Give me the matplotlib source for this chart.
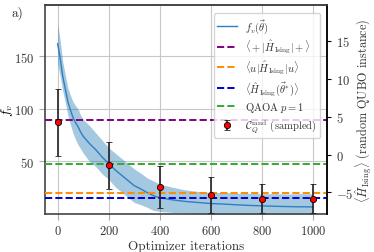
import numpy as np
import matplotlib
matplotlib.use("Agg")
import matplotlib.pyplot as plt

plt.rcParams['font.family'] = 'serif'
plt.rcParams['font.serif'] = ['cmr10', 'DejaVu Serif']
plt.rcParams['mathtext.fontset'] = 'cm'
plt.rcParams['axes.formatter.use_mathtext'] = True

# optimizer trace (left axis, f_v)
iters = [0, 10, 20, 30, 40, 50, 60, 70, 80, 90, 100, 125, 150, 175, 200, 225, 250,
         275, 300, 325, 350, 375, 400, 450, 500, 550, 600, 650, 700, 750, 800, 850,
         900, 950, 1000]
fv_mean = [162, 148, 131, 119, 107, 99, 92, 87, 83, 78, 74, 67, 61, 54, 48, 42, 37,
           32, 27, 24, 20.5, 17.5, 15.5, 13.5, 12, 11, 10, 9.5, 8.8, 8.2, 7.8, 7.4,
           7.1, 6.9, 6.8]
fv_std = [19, 17, 14, 13, 13, 14, 15, 16, 17, 16, 16, 17, 16, 16, 15, 16, 16,
          16, 16, 15, 14, 14, 13, 12, 11, 10.5, 10.5, 11, 11, 11.5, 11.5, 12,
          12, 12.5, 12.5]

# reference energies (right axis)
e_plus = 4.5
e_u = -5.1
e_opt = -5.78
e_qaoa = -1.25

# sampled cost with error bars (right axis)
samp_x = [0, 200, 400, 600, 800, 1000]
samp_y = [4.25, -1.4, -4.3, -5.3, -5.8, -5.8]
samp_err = [4.4, 3.1, 2.8, 2.35, 1.85, 1.85]

fig = plt.figure(figsize=(3.74, 2.53), dpi=100)
ax = fig.add_axes([0.120, 0.150, 0.7535, 0.827])
ax2 = ax.twinx()

x = np.array(iters)
m = np.array(fv_mean)
s = np.array(fv_std)
ax.fill_between(x, m - s, m + s, color='#1f77b4', alpha=0.4, lw=0)
l0, = ax.plot(x, m, color='#2f7fbf', lw=1.0, label=r'$f_v(\vec{\theta})$')

ax.set_xlim(-50, 1054)
ax.set_ylim(0, 199)
ax.set_yticks([50, 100, 150])
ax.set_xticks([0, 200, 400, 600, 800, 1000])
ax.grid(True, color='#c8c8c8', lw=0.8)
ax.set_axisbelow(True)
ax.tick_params(axis='both', labelsize=9, color='#aaaaaa', length=4, labelcolor='#333333')
for sp in ax.spines.values():
    sp.set_color('#444444')
    sp.set_linewidth(1.2)
ax.set_xlabel('Optimizer iterations', fontsize=9.5, color='#333333', labelpad=2)
ax.set_ylabel(r'$f_v$', fontsize=10)
ax.yaxis.set_label_coords(-0.105, 0.5)

ax2.set_ylim(-7.85, 19.75)
ax2.set_yticks([-5, 0, 5, 10, 15])
h1 = ax2.axhline(e_plus, color='purple', ls='--', lw=1.4,
                 label=r'$\langle + | \hat{H}_{\rm Ising} | + \rangle$')
h2 = ax2.axhline(e_u, color='darkorange', ls='--', lw=1.4,
                 label=r'$\langle u | \hat{H}_{\rm Ising} | u \rangle$')
h3 = ax2.axhline(e_opt, color='#0000cc', ls='--', lw=1.4,
                 label=r'$\langle \hat{H}_{\rm Ising}(\vec{\theta}^{*}) \rangle$')
h4 = ax2.axhline(e_qaoa, color='#33aa33', ls='--', lw=1.4, label=r'QAOA $p=1$')
h5 = ax2.errorbar(samp_x, samp_y, yerr=samp_err, fmt='o', color='red', mec='black',
                  mew=0.6, ms=4.5, ecolor='#222222', elinewidth=1.2, capsize=2,
                  capthick=1.0, label=r'$\mathcal{C}_Q^{\rm rand}$ (sampled)')
ax2.tick_params(axis='y', labelsize=9, length=3, labelcolor='#333333')
ax2.spines['right'].set_linewidth(1.2)
ax2.spines['top'].set_linewidth(1.2)
ax2.spines['top'].set_color('#444444')
ax2.spines['left'].set_visible(False)
ax2.spines['bottom'].set_visible(False)
ax2.set_ylabel(r'$\langle \hat{H}_{\rm Ising}\rangle$ (random QUBO instance)',
               fontsize=8.8, color='#333333')
ax2.yaxis.set_label_coords(1.095, 0.5)

leg = ax2.legend(handles=[l0, h1, h2, h3, h4, h5], loc='upper right', fontsize=7.6,
                 frameon=True, framealpha=0.8, edgecolor='#cccccc',
                 borderpad=0.35, labelspacing=0.28, handlelength=1.9,
                 handletextpad=0.7, bbox_to_anchor=(0.995, 0.985))
for t in leg.get_texts():
    t.set_color('#333333')

fig.text(0.03, 0.935, 'a)', fontsize=9.5, color='#333333')

fig.savefig('out.png', dpi=100)
